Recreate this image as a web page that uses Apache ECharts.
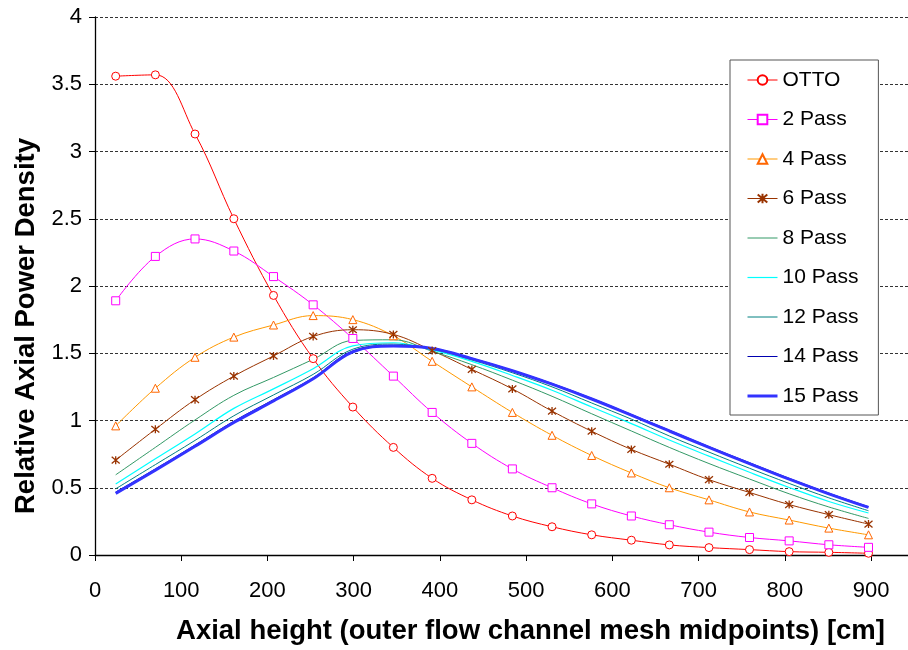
<!DOCTYPE html>
<html>
<head>
<meta charset="utf-8">
<script src="https://cdn.jsdelivr.net/npm/echarts@6/dist/echarts.min.js"></script>
<style>
  html, body { margin: 0; padding: 0; background: #fff; }
  #chart { width: 908px; height: 650px; }
</style>
</head>
<body>
<div id="chart"></div>
<script>
// Axial mesh midpoints [cm]
const heights = [24, 70, 116, 161, 207, 253, 299, 346, 391, 437, 484, 530, 576, 622, 666, 712, 759, 805, 851, 897];

// Relative axial power density per fuelling scheme
const otto   = [3.56, 3.57, 3.13, 2.50, 1.93, 1.46, 1.10, 0.80, 0.57, 0.41, 0.29, 0.21, 0.15, 0.11, 0.075, 0.055, 0.04, 0.025, 0.02, 0.013];
const pass2  = [1.89, 2.22, 2.35, 2.26, 2.07, 1.86, 1.61, 1.33, 1.06, 0.83, 0.64, 0.50, 0.38, 0.29, 0.225, 0.17, 0.13, 0.105, 0.076, 0.057];
const pass4  = [0.96, 1.24, 1.47, 1.62, 1.71, 1.78, 1.75, 1.63, 1.44, 1.25, 1.06, 0.89, 0.74, 0.61, 0.50, 0.41, 0.32, 0.26, 0.20, 0.15];
const pass6  = [0.705, 0.935, 1.155, 1.33, 1.48, 1.625, 1.675, 1.64, 1.52, 1.38, 1.235, 1.07, 0.92, 0.785, 0.675, 0.56, 0.465, 0.375, 0.30, 0.23];
const pass8  = [0.596, 0.80, 1.004, 1.187, 1.32, 1.455, 1.595, 1.60, 1.515, 1.415, 1.30, 1.18, 1.05, 0.922, 0.80, 0.68, 0.565, 0.455, 0.357, 0.272];
const pass10 = [0.527, 0.715, 0.90, 1.09, 1.235, 1.385, 1.555, 1.578, 1.525, 1.44, 1.335, 1.225, 1.10, 0.977, 0.855, 0.735, 0.615, 0.502, 0.398, 0.312];
const pass12 = [0.492, 0.672, 0.852, 1.035, 1.19, 1.343, 1.53, 1.568, 1.53, 1.45, 1.355, 1.25, 1.13, 1.01, 0.885, 0.765, 0.645, 0.532, 0.425, 0.329];
const pass14 = [0.468, 0.64, 0.818, 0.995, 1.155, 1.318, 1.518, 1.558, 1.538, 1.463, 1.373, 1.275, 1.165, 1.045, 0.928, 0.806, 0.686, 0.57, 0.46, 0.359];
const pass15 = [0.458, 0.631, 0.808, 0.985, 1.145, 1.31, 1.51, 1.553, 1.535, 1.46, 1.37, 1.27, 1.16, 1.04, 0.922, 0.80, 0.68, 0.564, 0.455, 0.354];

// x-axis tick labels
const xTicks = [0, 100, 200, 300, 400, 500, 600, 700, 800, 900];

const seriesNames = ['OTTO', '2 Pass', '4 Pass', '6 Pass', '8 Pass', '10 Pass', '12 Pass', '14 Pass', '15 Pass'];
const seriesValues = [otto, pass2, pass4, pass6, pass8, pass10, pass12, pass14, pass15];

const FONT = '"Liberation Sans", Arial, Helvetica, sans-serif';
const ASTERISK = 'path://M0,0L10,10M10,0L0,10M5,-1L5,11';

// per-series drawing style
const styles = [
  { line: '#ff0000', mark: '#ff0000', symbol: 'circle', width: 1 },
  { line: '#ff00ff', mark: '#ff00ff', symbol: 'rect', width: 1 },
  { line: '#ff9900', mark: '#ff6600', symbol: 'triangle', width: 1 },
  { line: '#993300', mark: '#993300', symbol: ASTERISK, width: 1 },
  { line: '#339966', symbol: 'none', width: 1 },
  { line: '#00ffff', symbol: 'none', width: 1.2 },
  { line: '#008080', symbol: 'none', width: 1 },
  { line: '#0000b0', symbol: 'none', width: 1 },
  { line: '#3333ff', symbol: 'none', width: 3 }
];

function pairs(ys) {
  return heights.map((h, i) => [h, ys[i]]);
}

const series = seriesNames.map((name, k) => {
  const st = styles[k];
  const s = {
    name: name,
    type: 'line',
    smooth: 0.38,
    data: pairs(seriesValues[k]),
    lineStyle: { color: st.line, width: st.width },
    symbol: st.symbol,
    showSymbol: st.symbol !== 'none',
    symbolSize: 8,
    animation: false
  };
  if (st.symbol === ASTERISK) {
    s.itemStyle = { color: st.mark, borderColor: st.mark, borderWidth: 1.3 };
  } else if (st.symbol !== 'none') {
    s.itemStyle = { color: '#ffffff', borderColor: st.mark, borderWidth: 1 };
  } else {
    s.itemStyle = { color: st.line };
  }
  return s;
});

// legend entries: series without markers show only their line
const legendData = seriesNames.map((name, k) => {
  const st = styles[k];
  const item = { name: name, lineStyle: { color: st.line, width: st.width } };
  if (st.symbol === 'none') item.itemStyle = { opacity: 0 };
  return item;
});

const chart = echarts.init(document.getElementById('chart'), null, { renderer: 'canvas' });
chart.setOption({
  backgroundColor: '#ffffff',
  animation: false,
  textStyle: { fontFamily: FONT, color: '#000' },
  grid: { left: 95, top: 17, bottom: 94, right: 0 },
  legend: {
    orient: 'vertical',
    left: 730,
    top: 60,
    padding: [9, 20, 8, 16],
    itemWidth: 30,
    itemHeight: 12,
    itemGap: 17.5,
    backgroundColor: '#ffffff',
    borderColor: '#555555',
    borderWidth: 1,
    textStyle: { fontFamily: FONT, fontSize: 21, color: '#000', lineHeight: 22 },
    data: legendData
  },
  xAxis: {
    type: 'value',
    min: 0,
    max: 942.8,
    interval: 100,
    name: 'Axial height (outer flow channel mesh midpoints) [cm]',
    nameLocation: 'middle',
    nameGap: 62,
    nameTextStyle: { fontFamily: FONT, fontSize: 27.5, fontWeight: 'bold', color: '#000', padding: [0, 0, 0, 58] },
    axisLine: { onZero: false, lineStyle: { color: '#000', width: 1.3 } },
    axisTick: { show: true, length: 6, lineStyle: { color: '#000' } },
    axisLabel: {
      fontFamily: FONT, fontSize: 22, color: '#000', margin: 25,
      showMaxLabel: false,
      formatter: v => (xTicks.indexOf(Math.round(v)) >= 0 && Math.abs(v - Math.round(v)) < 1e-6) ? String(Math.round(v)) : ''
    },
    splitLine: { show: false }
  },
  yAxis: {
    type: 'value',
    min: 0,
    max: 4,
    interval: 0.5,
    name: 'Relative Axial Power Density',
    nameLocation: 'middle',
    nameGap: 50,
    nameTextStyle: { fontFamily: FONT, fontSize: 27.5, fontWeight: 'bold', color: '#000', padding: [0, 80, 0, 0] },
    axisLine: { show: true, lineStyle: { color: '#000', width: 1.3 } },
    axisTick: { show: true, length: 6, lineStyle: { color: '#000' } },
    axisLabel: { fontFamily: FONT, fontSize: 22, color: '#000', margin: 13 },
    splitLine: { show: true, lineStyle: { color: '#333', width: 1, type: [3, 2] } }
  },
  series: series
});
</script>
</body>
</html>
